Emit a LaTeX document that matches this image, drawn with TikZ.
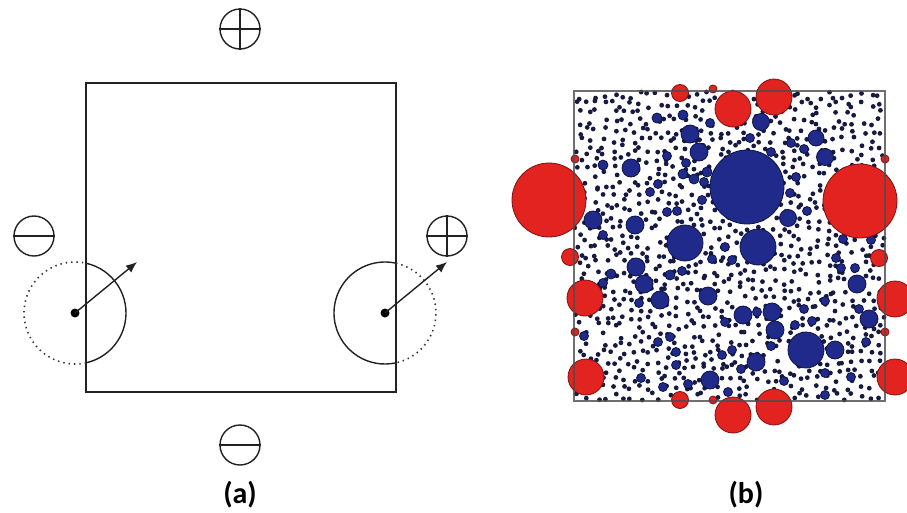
\documentclass[tikz,border=0pt]{standalone}
\usepackage{fontspec}
\setmainfont{Carlito}
\usetikzlibrary{arrows.meta}

\definecolor{inkline}{HTML}{222222}
\definecolor{blobfill}{HTML}{1F2A8A}
\definecolor{blobedge}{HTML}{0E1345}
\definecolor{dotfill}{HTML}{161A40}
\definecolor{redfill}{HTML}{E2231F}
\definecolor{rededge}{HTML}{7A1212}

\tikzset{
  sym/.style={circle, draw=inkline, line width=1.4pt, minimum size=40pt, inner sep=0pt},
  symbar/.style={draw=inkline, line width=1.4pt},
  boxline/.style={draw=inkline, line width=1.2pt},
  solidarc/.style={draw=inkline, line width=1.4pt},
  dotarc/.style={draw=black!80, line width=1.6pt, dash pattern=on 1.4pt off 4pt},
  ctr/.style={circle, fill=black, minimum size=9pt, inner sep=0pt},
  vec/.style={draw=inkline, line width=1.4pt, -{Latex[length=11pt,width=9pt]}},
  blob/.style={fill=blobfill, draw=blobedge, line width=0.8pt},
  redblob/.style={fill=redfill, draw=rededge, line width=0.8pt},
  tag/.style={font=\bfseries\fontsize{30}{30}\selectfont, anchor=base, inner sep=0pt}
}

\begin{document}
\begin{tikzpicture}[x=1pt, y=-1pt]
\useasboundingbox (0,0) rectangle (907,512);
\clip (0,0) rectangle (907,512);
\fill[white] (0,0) rectangle (907,512);

% ---------- panel (a): cell with periodic images ----------
\node[boxline, rectangle, minimum width=310pt, minimum height=309pt, inner sep=0pt] (cell) at (241,237.5) {};

% charge symbols around the cell
\node[sym] (ptop) at (240,29) {};
\draw[symbar] (ptop.north) -- (ptop.south) (ptop.west) -- (ptop.east);
\node[sym] (mbot) at (240,445) {};
\draw[symbar] (mbot.west) -- (mbot.east);
\node[sym] (mleft) at (34,236) {};
\draw[symbar] (mleft.west) -- (mleft.east);
\node[sym] (pright) at (447,236) {};
\draw[symbar] (pright.north) -- (pright.south) (pright.west) -- (pright.east);

% particle crossing the left wall and its image at the right wall
\node[ctr] (cl) at (75,313) {};
\node[ctr] (cr) at (385,313) {};
\draw[solidarc] (cl.center) ++(-77.5:51) arc[start angle=-77.5, end angle=77.5, radius=51];
\draw[dotarc]   (cl.center) ++(77.5:51) arc[start angle=77.5, end angle=282.5, radius=51];
\draw[solidarc] (cr.center) ++(77.5:51) arc[start angle=77.5, end angle=282.5, radius=51];
\draw[dotarc]   (cr.center) ++(-77.5:51) arc[start angle=-77.5, end angle=77.5, radius=51];
\coordinate (tl) at (137,262);
\coordinate (tr) at (447,262);
\draw[vec] (cl.center) -- (tl);
\draw[vec] (cr.center) -- (tr);

\node[tag] (la) at (240,503) {(a)};

% ---------- panel (b): periodic particle packing ----------
% small particles on a jittered lattice, a few sites left empty
\pgfmathsetseed{20231}
\foreach \i in {0,...,34}{
  \foreach \j in {0,...,34}{
    \pgfmathsetmacro{\keep}{rnd}
    \pgfmathsetmacro{\px}{574+(\i+0.5)*8.886+(rnd-0.5)*7.5}
    \pgfmathsetmacro{\py}{91+(\j+0.5)*8.857+(rnd-0.5)*7.5}
    \ifdim\keep pt>0.12pt
      \fill[dotfill] (\px,\py) circle (2.4);
    \fi
  }
}

\foreach \x/\y/\r in {
  747/187/37, 806/350/18, 685/243/18, 758/247/18,
  690/134/9, 699/152/9, 631/168/9, 593/220/9, 635/225/9, 636/267/9,
  644/284/9, 660/300/9, 708/296/9, 710/380/9, 761/122/8.5, 816/138/8,
  825/157/8.5, 788/218/8.5, 857/284/9, 869/319/9, 743/315/9, 772/312/9,
  775/330/9, 835/350/9, 756/362/9,
  657/118/5, 683/115/5, 710/123/4.5, 667/156/4.5, 686/163/4.5, 603/165/5,
  683/174/5, 694/179/5, 707/172/5, 704/182/4.5, 658/184/4.5, 650/192/4.5,
  702/200/4.5, 667/212/4.5, 677/211/4.5, 603/235/4.5, 750/138/4.5, 791/143/4.5,
  804/149/4.5, 771/152/4.5, 796/177/4.5, 790/193/4.5, 807/211/4.5, 843/239/4.5,
  871/240/4.5, 611/274/5, 603/283/4.5, 639/303/4.5, 670/275/5, 682/271/4.5,
  712/259/4.5, 725/247/4.5, 584/336/4.5, 658/342/4.5, 670/337/4.5, 676/352/4.5,
  676/365/4.5, 725/322/4.5, 722/355/4.5, 641/378/4.5, 663/387/4.5, 688/384/4.5,
  732/260/4.5, 836/258/4.5, 841/268/4.5, 855/268/4.5, 825/301/4.5, 804/309/4.5,
  859/309/4.5, 757/312/4.5, 795/325/4.5, 812/321/4.5, 866/342/4.5, 771/346/4.5,
  741/369/4.5, 732/350/4.5, 784/381/4.5, 825/373/4.5, 851/377/4.5, 825/395/4.5,
  728/392/4.5}{
  \draw[blob] (\x,\y) circle (\r);
}

\foreach \x/\y/\r in {
  549/200/37, 860/201/37, 733/109/18, 774/97/18, 733/415/18, 774/407/18,
  585/298/18, 586/377/18, 895/299/18, 895/377/18, 680/93/8.5, 680/400/8.5,
  570/257/8.5, 879/258/8.5, 713/89/4, 713/400/4, 575/159/4, 885/159/4,
  575/332/4, 885/332/4}{
  \draw[redblob] (\x,\y) circle (\r);
}

\node[rectangle, draw=black!70, draw opacity=0.8, line width=1.3pt, minimum width=311pt, minimum height=310pt, inner sep=0pt] (pbox) at (729.5,246) {};

\node[tag] (lb) at (746,503) {(b)};
\end{tikzpicture}
\end{document}
